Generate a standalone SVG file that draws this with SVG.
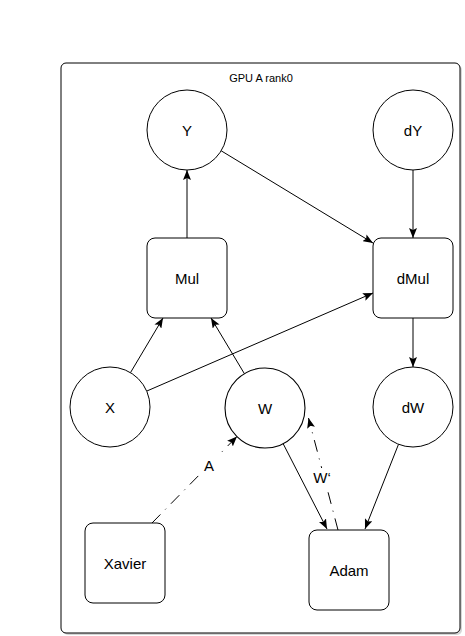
<svg xmlns="http://www.w3.org/2000/svg" width="465" height="636" viewBox="0 0 465 636">
<style>
.n{fill:#fff;stroke:#000;stroke-width:1}
.t{font-family:"Liberation Sans",Arial,sans-serif;font-size:15px;text-anchor:middle;dominant-baseline:central;fill:#000}
.e{stroke:#000;stroke-width:1;fill:none;marker-end:url(#ar)}
.d{stroke-dasharray:12 7 1 7}
</style>
<defs>
<marker id="ar" markerUnits="userSpaceOnUse" markerWidth="10" markerHeight="8" refX="10" refY="4" orient="auto">
<path d="M0,0 L10,4 L0,8 L2,4 z" fill="#000"/>
</marker>
</defs>
<rect width="465" height="636" fill="#fff"/>
<g id="container">
<rect x="63" y="65" width="399" height="570" rx="5" fill="#bbb" opacity="0.6"/>
<rect x="61" y="63" width="399" height="570" rx="5" class="n"/>
<text x="261" y="78" class="t" style="font-size:11px">GPU A rank0</text>
</g>
<g id="connectors">
<line x1="187" y1="238" x2="187" y2="170" class="e"/>
<line x1="221.2" y1="150.8" x2="373" y2="243" class="e"/>
<line x1="413" y1="170" x2="413" y2="238" class="e"/>
<line x1="146.7" y1="391.1" x2="373" y2="293" class="e"/>
<line x1="130.5" y1="372.6" x2="163" y2="318" class="e"/>
<line x1="244.4" y1="373.7" x2="211" y2="318" class="e"/>
<line x1="413" y1="318" x2="413" y2="367" class="e"/>
<line x1="283.1" y1="443.6" x2="327" y2="529" class="e"/>
<line x1="398.5" y1="444.3" x2="365" y2="529" class="e"/>
<line x1="152" y1="523" x2="237" y2="436.5" class="e d"/>
<line x1="338" y1="530" x2="308.5" y2="418" class="e d"/>
<rect x="200" y="456" width="18" height="19" fill="#fff"/>
<text x="209" y="465" class="t">A</text>
<rect x="312" y="468" width="20" height="19" fill="#fff"/>
<text x="322" y="477" class="t">W‘</text>
</g>
<g id="Y"><circle cx="187" cy="130" r="40" class="n"/><text x="187" y="130" class="t">Y</text></g>
<g id="dY"><circle cx="413" cy="130" r="40" class="n"/><text x="413" y="130" class="t">dY</text></g>
<g id="Mul"><rect x="147" y="238" width="80" height="80" rx="8" class="n"/><text x="187" y="278" class="t">Mul</text></g>
<g id="dMul"><rect x="373" y="238" width="80" height="80" rx="8" class="n"/><text x="413" y="278" class="t">dMul</text></g>
<g id="X"><circle cx="110" cy="407" r="40" class="n"/><text x="110" y="407" class="t">X</text></g>
<g id="W"><circle cx="265" cy="408" r="40" class="n" style="stroke-width:1.1"/><text x="265" y="408" class="t">W</text></g>
<g id="dW"><circle cx="413" cy="407" r="40" class="n"/><text x="413" y="407" class="t">dW</text></g>
<g id="Xavier"><rect x="85" y="523" width="80" height="80" rx="8" class="n"/><text x="125" y="563" class="t">Xavier</text></g>
<g id="Adam"><rect x="309" y="530" width="80" height="80" rx="8" class="n"/><text x="349" y="570" class="t">Adam</text></g>
</svg>
